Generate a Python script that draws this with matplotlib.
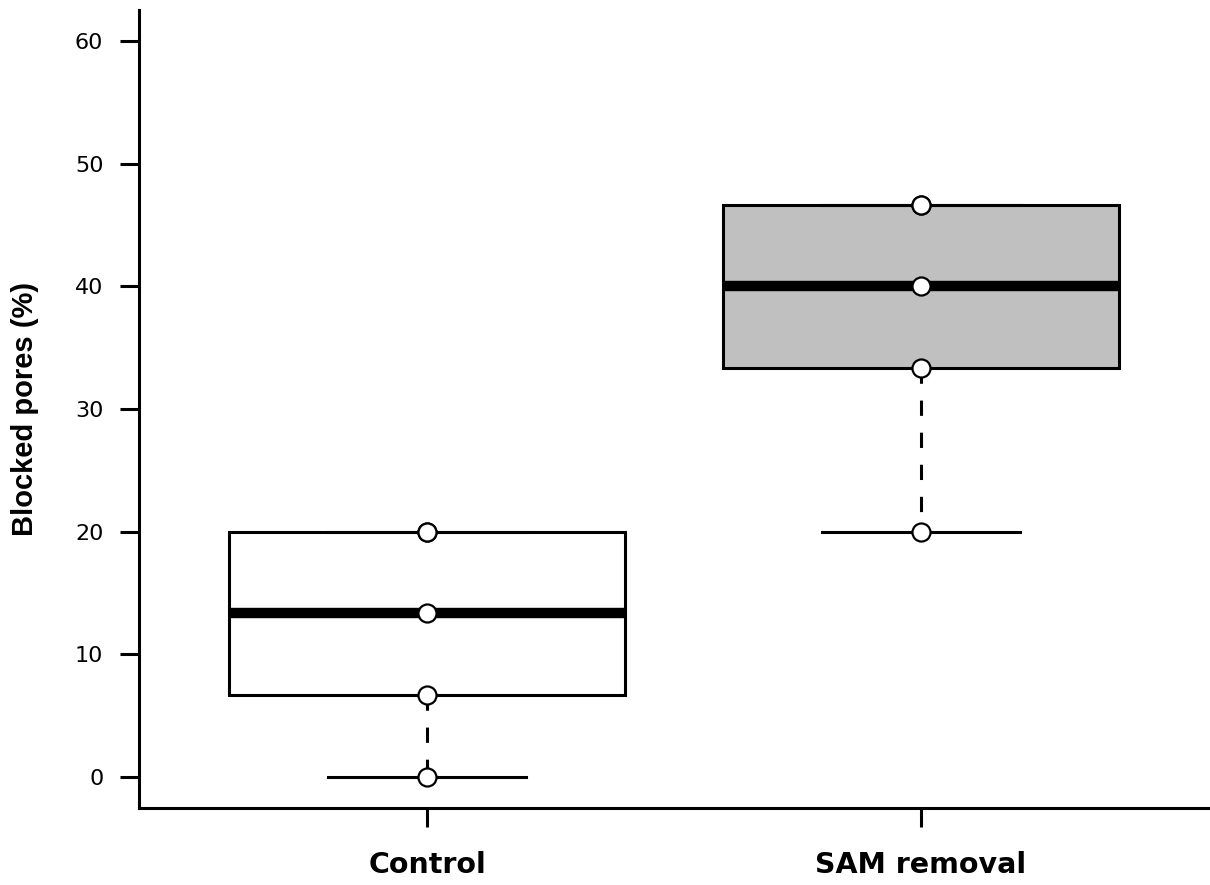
import matplotlib.pyplot as plt

# Percentage of blocked pores per replicate
groups = ["Control", "SAM removal"]
control = [0, 6.67, 13.33, 20, 20]
sam_removal = [20, 33.33, 40, 46.67, 46.67]
box_colors = ["white", "#c0c0c0"]
yticks = [0, 10, 20, 30, 40, 50, 60]

plt.rcParams["font.family"] = ["DejaVu Sans"]

fig = plt.figure(figsize=(12.1, 8.85), dpi=100)
ax = fig.add_axes([0.1149, 0.087, 0.8851, 0.9017])

data = [control, sam_removal]
bp = ax.boxplot(
    data,
    positions=[1, 2],
    widths=0.8,
    whis=1.5,
    patch_artist=True,
    showfliers=False,
    boxprops=dict(linewidth=2.2, edgecolor="black"),
    medianprops=dict(linewidth=7.5, color="black", solid_capstyle="butt"),
    whiskerprops=dict(linewidth=2.2, color="black", linestyle=(0, (5, 5.5))),
    capprops=dict(linewidth=2.2, color="black"),
    capwidths=0.4,
)
for patch, c in zip(bp["boxes"], box_colors):
    patch.set_facecolor(c)

# Raw observations on top of each box
for i, vals in enumerate(data):
    ax.plot([i + 1] * len(vals), vals, "o", markersize=13,
            markerfacecolor="white", markeredgecolor="black",
            markeredgewidth=1.6, zorder=5)

ax.set_xlim(0.417, 2.585)
ax.set_ylim(-2.527, 62.527)
ax.set_yticks(yticks)
ax.set_xticks([1, 2])
ax.set_xticklabels(groups, fontsize=20.5, fontweight="bold")
ax.tick_params(axis="y", length=13.7, width=2.2, labelsize=16, pad=12)
ax.tick_params(axis="x", length=14, width=2.2, pad=17)

for side in ["top", "right"]:
    ax.spines[side].set_visible(False)
for side in ["left", "bottom"]:
    ax.spines[side].set_linewidth(2.2)

ax.set_ylabel("Blocked pores (%)", fontsize=21, fontweight="bold",
              family=["Liberation Sans", "DejaVu Sans"])
ax.yaxis.set_label_coords(-0.093, 0.5)

fig.savefig("out.png", dpi=100)
